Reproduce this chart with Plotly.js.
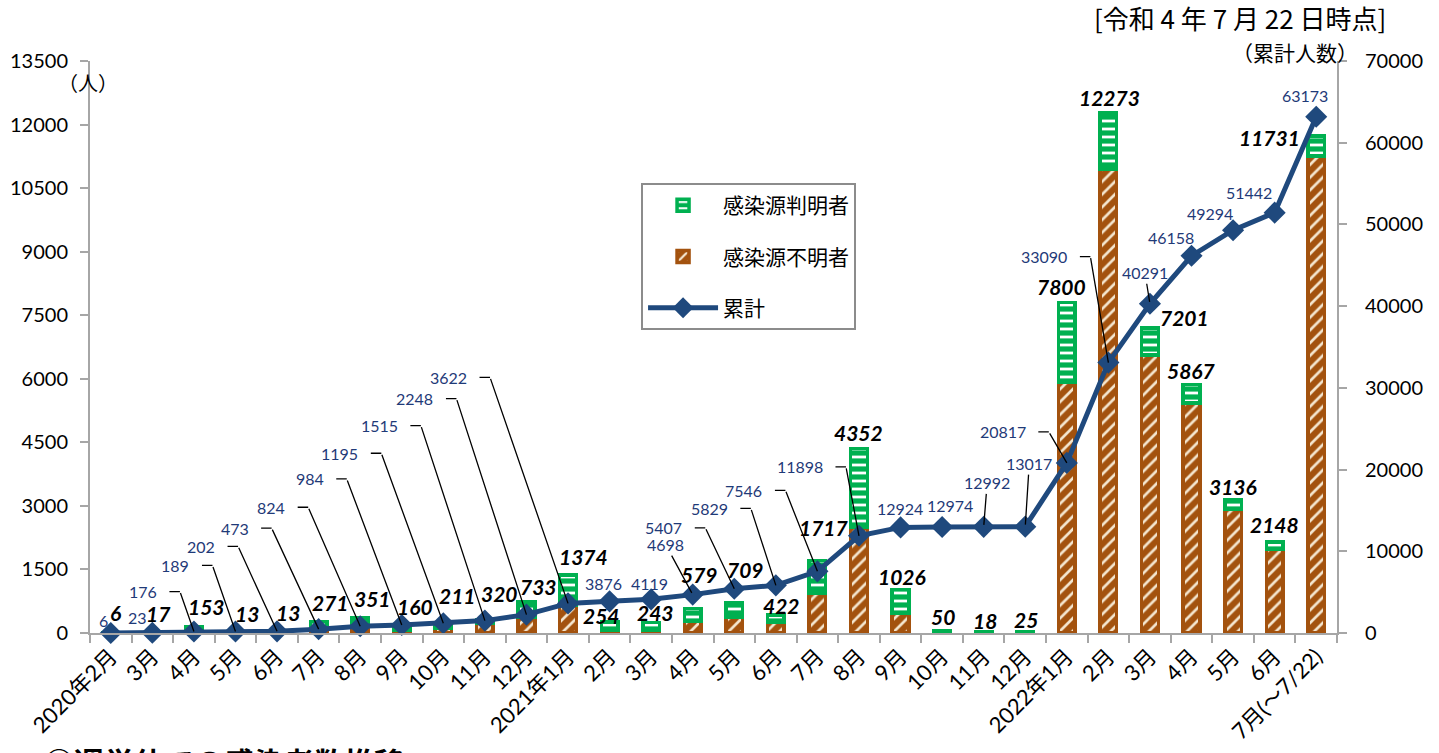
<!DOCTYPE html>
<html>
<head>
<meta charset="utf-8">
<script src="https://cdn.plot.ly/plotly-3.0.1.min.js"></script>
<style>
  html, body { margin: 0; padding: 0; background: #ffffff; overflow: hidden; }
  #chart { width: 1439px; height: 753px; }
</style>
</head>
<body>
<div id="chart"></div>
<script>
// ---------------- data ----------------
const months = ['2020年2月','3月','4月','5月','6月','7月','8月','9月','10月','11月','12月',
  '2021年1月','2月','3月','4月','5月','6月','7月','8月','9月','10月','11月','12月',
  '2022年1月','2月','3月','4月','5月','6月','7月(～7/22)'];
const totals = [6,17,153,13,13,271,351,160,211,320,733,1374,254,243,579,709,422,1717,4352,1026,50,18,25,7800,12273,7201,5867,3136,2148,11731];
const knownSource = [4,12,120,10,10,190,200,90,110,100,350,724,180,170,300,331,162,773,1850,554,38,14,20,1876,1322,640,439,209,165,473];
const unknownSource = [2,5,33,3,3,81,151,70,101,220,383,650,74,73,279,378,260,944,2502,472,12,4,5,5924,10951,6561,5428,2927,1983,11258];
const cumulative = [6,23,176,189,202,473,824,984,1195,1515,2248,3622,3876,4119,4698,5407,5829,7546,11898,12924,12974,12992,13017,20817,33090,40291,46158,49294,51442,63173];
const seriesNames = ['感染源判明者','感染源不明者','累計'];

// ---------------- label placement (pixel offsets, layout only) ----------------
const totalLabelShift = [[5,-20],[6,-19],[13,-20],[12,-19],[11,-20],[12,-19],[12,-20],[13,-20],[14,-29],[15,-26],
  [12,-15],[15,-18],[-8,-7],[4,-10],[7,-34],[11,-33],[6,-10],[7,-33],[0,-16],[1,-13],
  [1,-14],[1,-12],[1,-12],[-5,-16],[1,-15],[35,-10],[0,-14],[0,-14],[0,-17],[-47,2]];
const cumLabelShift = [[-7,-12,'none'],[-15,-15,'none'],[-35,-40,'elbow'],[-44,-66,'elbow'],[-60,-85,'elbow'],
  [-68,-101,'elbow'],[-73,-119,'elbow'],[-76,-146,'elbow'],[-83,-170,'elbow'],[-85,-195,'elbow'],
  [-91,-216,'elbow'],[-99,-226,'elbow'],[-6,-18,'none'],[-2,-16,'none'],[-27,-50,'arrow'],
  [-50,-61,'elbow'],[-46,-77,'elbow'],[-53,-81,'elbow'],[-34,-69,'elbow'],[-1,-19,'none'],
  [8,-21,'none'],[3.5,-44,'arrow'],[4,-63,'arrow'],[-39,-31,'elbow'],[-39,-106,'elbow'],
  [-5,-31,'arrow'],[-21,-18,'none'],[-23,-17,'none'],[-26,-20,'none'],[-11,-21,'none']];

// ---------------- styles ----------------
const FONT = "Lato, 'Noto Sans CJK JP', sans-serif";
const CJK = "'Noto Sans CJK JP', sans-serif";
const GREEN = '#00B050';
const BROWN = '#A3520E';
const NAVY = '#1F497D';
const LABEL_NAVY = '#1F3A78';
const AXIS_GRAY = '#A6A6A6';

const idx = months.map((m, i) => i);
const boundaries = months.map((m, i) => i - 0.5).concat([months.length - 0.5]);

const traces = [
  {
    type: 'bar', name: seriesNames[1], x: idx, y: unknownSource, yaxis: 'y',
    width: 0.4, legendrank: 2, legendgroup: 'b', hoverinfo: 'skip',
    marker: {
      color: BROWN,
      line: {color: BROWN, width: 3.5},
      pattern: {shape: '/', fgcolor: '#F4E6CF', bgcolor: BROWN, size: 9, solidity: 0.3}
    }
  },
  {
    type: 'bar', name: seriesNames[0], x: idx, y: knownSource, yaxis: 'y',
    width: 0.4, legendrank: 1, legendgroup: 'a', hoverinfo: 'skip',
    marker: {
      color: GREEN,
      line: {color: GREEN, width: 3.5},
      pattern: {shape: '-', fgcolor: '#FFFFFF', bgcolor: GREEN, size: 8, solidity: 0.35}
    }
  },
  {
    type: 'scatter', mode: 'lines+markers', name: seriesNames[2], x: idx, y: cumulative, yaxis: 'y2',
    legendrank: 3, legendgroup: 'c', hoverinfo: 'skip', cliponaxis: false,
    line: {color: NAVY, width: 5},
    marker: {symbol: 'diamond', size: 17, color: NAVY}
  }
];

const annotations = [];

// bar total labels
totals.forEach((v, i) => {
  annotations.push({
    x: i, y: v, xref: 'x', yref: 'y', text: String(v), showarrow: false,
    xanchor: 'center', yanchor: 'middle',
    xshift: totalLabelShift[i][0], yshift: -totalLabelShift[i][1],
    font: {family: FONT, size: 21, color: '#000000', weight: 'bold', style: 'italic'}
  });
});

// cumulative labels with leader lines
cumulative.forEach((v, i) => {
  const [dx, dy, mode] = cumLabelShift[i];
  const lf = {family: FONT, size: 16, color: LABEL_NAVY};
  if (mode === 'elbow') {
    annotations.push({
      x: i, y: v, xref: 'x', yref: 'y2', text: String(v), showarrow: false,
      xanchor: 'right', yanchor: 'middle', xshift: dx, yshift: -dy, font: lf
    });
    annotations.push({
      x: i, y: v, xref: 'x', yref: 'y2', text: '', showarrow: true,
      ax: dx + 21, ay: dy, arrowhead: 0, arrowwidth: 1.3, arrowcolor: '#000000', standoff: 0, startstandoff: 0
    });
    annotations.push({
      x: i, y: v, xref: 'x', yref: 'y2', text: '', showarrow: true,
      xshift: dx + 21, yshift: -dy, ax: -12, ay: 0,
      arrowhead: 0, arrowwidth: 1.3, arrowcolor: '#000000', standoff: 0, startstandoff: 0
    });
  } else if (mode === 'arrow') {
    annotations.push({
      x: i, y: v, xref: 'x', yref: 'y2', text: String(v), showarrow: true,
      ax: dx, ay: dy, arrowhead: 0, arrowwidth: 1.3, arrowcolor: '#000000', standoff: 2, font: lf
    });
  } else {
    annotations.push({
      x: i, y: v, xref: 'x', yref: 'y2', text: String(v), showarrow: false,
      xanchor: 'center', yanchor: 'middle', xshift: dx, yshift: -dy, font: lf
    });
  }
});

// free texts
annotations.push({
  xref: 'paper', yref: 'paper', x: 0.922, y: 1.0752, xanchor: 'center', yanchor: 'middle',
  text: '[令和 4 年 7 月 22 日時点]', showarrow: false, font: {family: CJK, size: 26, color: '#000'}
});
annotations.push({
  xref: 'paper', yref: 'paper', x: 0.9665, y: 1.0157, xanchor: 'center', yanchor: 'middle',
  text: '（累計人数）', showarrow: false, font: {family: CJK, size: 21, color: '#000'}
});
annotations.push({
  xref: 'paper', yref: 'paper', x: -0.0016, y: 0.963, xanchor: 'center', yanchor: 'middle',
  text: '（人）', showarrow: false, font: {family: CJK, size: 20, color: '#000'}
});
annotations.push({
  xref: 'paper', yref: 'paper', x: -0.0385, y: -0.1810, xanchor: 'left', yanchor: 'top',
  text: '◎週単位での感染者数推移', showarrow: false, font: {family: CJK, size: 30, color: '#000', weight: 'bold'}
});

const axisCommon = {
  showline: true, linecolor: AXIS_GRAY, linewidth: 2,
  showgrid: false, zeroline: false,
  ticks: 'outside', ticklen: 8, tickwidth: 2, tickcolor: AXIS_GRAY,
  tickformat: 'd',
  tickfont: {family: FONT, size: 20, color: '#000'}
};

const layout = {
  width: 1439, height: 753,
  margin: {l: 90, r: 102, t: 61, b: 120, pad: 0},
  paper_bgcolor: '#ffffff', plot_bgcolor: '#ffffff',
  font: {family: FONT, color: '#000'},
  barmode: 'stack',
  showlegend: true,
  legend: {
    x: 0.4419, y: 0.7867, xanchor: 'left', yanchor: 'top',
    bordercolor: '#8C8C8C', borderwidth: 2, bgcolor: '#ffffff',
    font: {family: CJK, size: 21, color: '#000'},
    traceorder: 'grouped', tracegroupgap: 21, itemwidth: 70,
    entrywidth: 210, entrywidthmode: 'pixels'
  },
  xaxis: {
    range: [-0.5, months.length - 0.5],
    tickmode: 'array', tickvals: idx, ticktext: months, tickangle: -45,
    showline: true, linecolor: AXIS_GRAY, linewidth: 2,
    showgrid: false, zeroline: false, ticks: '', fixedrange: true,
    tickfont: {family: FONT, size: 22, color: '#000'},
    minor: {tickmode: 'array', tickvals: boundaries, ticks: 'outside', ticklen: 8, tickwidth: 2, tickcolor: AXIS_GRAY, showgrid: false}
  },
  yaxis: Object.assign({}, axisCommon, {range: [0, 13500], tick0: 0, dtick: 1500, ticklabelstandoff: 8}),
  yaxis2: Object.assign({}, axisCommon, {range: [0, 70000], tick0: 0, dtick: 10000, overlaying: 'y', side: 'right', ticklabelstandoff: 14}),
  annotations: annotations
};

Plotly.newPlot('chart', traces, layout, {displayModeBar: false, staticPlot: true});
</script>
</body>
</html>
